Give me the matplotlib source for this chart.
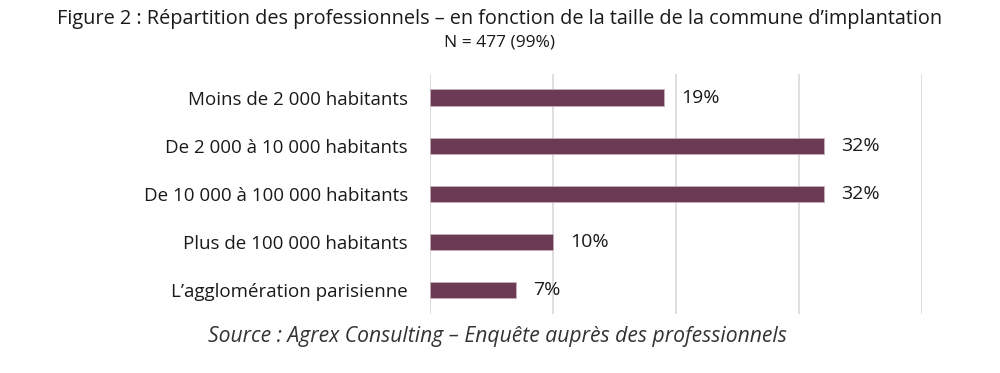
import matplotlib
matplotlib.use("Agg")
import matplotlib.pyplot as plt

categories = [
    "Moins de 2 000 habitants",
    "De 2 000 à 10 000 habitants",
    "De 10 000 à 100 000 habitants",
    "Plus de 100 000 habitants",
    "L\u2019agglomération parisienne",
]
values = [19, 32, 32, 10, 7]
value_labels = ["19%", "32%", "32%", "10%", "7%"]
xticks = [0, 10, 20, 30, 40]

BAR_COLOR = "#6D3A55"
GRID_COLOR = "#D9D9D9"
TEXT_COLOR = "#1a1a1a"

plt.rcParams["font.family"] = ["Open Sans", "DejaVu Sans"]

fig = plt.figure(figsize=(10, 3.73), dpi=100)
ax = fig.add_axes([0.430, 0.158, 0.492, 0.644])

ypos = list(range(len(categories)))
ax.barh(ypos, values, height=0.35, color=BAR_COLOR, edgecolor="#c9b3bf", lw=0.5, zorder=3)

# value labels just right of each bar
for y, v, lab in zip(ypos, values, value_labels):
    ax.text(v + 1.4, y, lab, va="center", ha="left", fontsize=14, color=TEXT_COLOR)

ax.set_xlim(0, 40)
ax.set_ylim(len(categories) - 0.5, -0.5)
ax.set_xticks(xticks)
ax.set_xticklabels([])
ax.set_yticks(ypos)
ax.set_yticklabels(categories, fontsize=13.5, color=TEXT_COLOR)
ax.tick_params(axis="both", length=0)
ax.tick_params(axis="y", pad=16)
ax.grid(axis="x", color=GRID_COLOR, lw=1.2, zorder=0)
for s in ax.spines.values():
    s.set_visible(False)

fig.text(0.5, 0.950, "Figure 2 : Répartition des professionnels \u2013 en fonction de la taille de la commune d\u2019implantation",
         ha="center", va="center", fontsize=14.3, color=TEXT_COLOR)
fig.text(0.5, 0.885, "N = 477 (99%)", ha="center", va="center", fontsize=12.5, color=TEXT_COLOR)
fig.text(0.497, 0.097, "Source : Agrex Consulting \u2013 Enquête auprès des professionnels",
         ha="center", va="center", fontsize=15.2, style="italic", color="#333333")

fig.savefig("out.png", dpi=100)
